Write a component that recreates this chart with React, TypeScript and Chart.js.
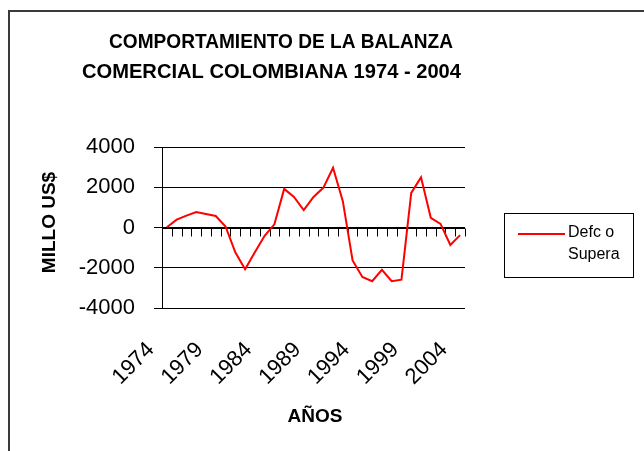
import { useEffect, useRef } from 'react';
import { Chart, registerables } from 'chart.js';

Chart.register(...registerables);

const years: string[] = [
  '1974', '1975', '1976', '1977', '1978', '1979', '1980', '1981', '1982', '1983',
  '1984', '1985', '1986', '1987', '1988', '1989', '1990', '1991', '1992', '1993',
  '1994', '1995', '1996', '1997', '1998', '1999', '2000', '2001', '2002', '2003', '2004',
];
const balance: number[] = [
  10, 390, 590, 770, 670, 570, 50, -1230, -2070, -1230,
  -410, 160, 1920, 1520, 870, 1520, 1970, 2970, 1310, -1640,
  -2460, -2670, -2100, -2670, -2590, 1720, 2490, 480, 180, -870, -380,
];
const seriesName = 'Defc o Supera';
const legendLines: string[] = ['Defc o', 'Supera'];
const titleLines: string[] = ['COMPORTAMIENTO DE LA BALANZA', 'COMERCIAL COLOMBIANA 1974 - 2004'];
const yTitle = 'MILLO US$';
const xTitle = 'AÑOS';
const yMin = -4000;
const yMax = 4000;
const yStep = 2000;

const FONT = '"Liberation Sans", Arial, sans-serif';

function drawFitted(ctx: any, text: string, cx: number, baseline: number, left: number, right: number) {
  const w = ctx.measureText(text).width;
  const sx = (right - left) / w;
  ctx.save();
  ctx.translate(cx, baseline);
  ctx.scale(sx, 1);
  ctx.textAlign = 'center';
  ctx.fillText(text, 0, 0);
  ctx.restore();
}

const decorPlugin = {
  id: 'decor',
  beforeDatasetsDraw(chart: any) {
    const ctx = chart.ctx;
    const x = chart.scales.x;
    const y = chart.scales.y;
    const area = chart.chartArea;
    const y0 = Math.round(y.getPixelForValue(0)) + 0.5;
    ctx.save();
    ctx.strokeStyle = '#000';
    ctx.lineWidth = 1;
    ctx.beginPath();
    ctx.moveTo(area.left, y0);
    ctx.lineTo(area.right, y0);
    const n = years.length;
    for (let k = 0; k <= n; k++) {
      const px = Math.round(x.getPixelForValue(k - 0.5)) + 0.5;
      ctx.moveTo(px, y0);
      ctx.lineTo(px, y0 + 8);
    }
    ctx.stroke();
    ctx.restore();
  },
  afterDraw(chart: any) {
    const ctx = chart.ctx;
    ctx.save();
    // frame
    ctx.strokeStyle = '#3a3a3a';
    ctx.lineWidth = 2;
    ctx.strokeRect(9, 11, 800, 600);
    // title
    ctx.fillStyle = '#000';
    ctx.font = `bold 21px ${FONT}`;
    ctx.textBaseline = 'alphabetic';
    drawFitted(ctx, titleLines[0], 281, 48, 109, 453);
    drawFitted(ctx, titleLines[1], 271.5, 78, 82, 461);
    // x title
    ctx.font = `bold 19px ${FONT}`;
    ctx.textAlign = 'center';
    ctx.fillText(xTitle, 315, 422);
    // y title
    ctx.save();
    ctx.translate(55, 222.5);
    ctx.rotate(-Math.PI / 2);
    ctx.fillText(yTitle, 0, 0);
    ctx.restore();
    // legend
    ctx.strokeStyle = '#000';
    ctx.lineWidth = 1;
    ctx.strokeRect(504.5, 213.5, 129, 64);
    ctx.strokeStyle = '#ff0000';
    ctx.lineWidth = 2;
    ctx.beginPath();
    ctx.moveTo(518, 234);
    ctx.lineTo(565, 234);
    ctx.stroke();
    ctx.fillStyle = '#000';
    ctx.font = `16px ${FONT}`;
    ctx.textAlign = 'left';
    ctx.fillText(legendLines[0], 568, 237);
    ctx.fillText(legendLines[1], 568, 259);
    ctx.restore();
  },
};

export default function App() {
  const ref = useRef<HTMLCanvasElement | null>(null);
  useEffect(() => {
    if (!ref.current) return;
    const chart = new Chart(ref.current, {
      type: 'line',
      data: {
        labels: years,
        datasets: [
          {
            label: seriesName,
            data: balance,
            borderColor: '#ff0000',
            backgroundColor: '#ff0000',
            borderWidth: 2,
            pointRadius: 0,
            tension: 0,
          },
        ],
      },
      options: {
        animation: false,
        responsive: false,
        devicePixelRatio: 1,
        layout: { padding: { left: 60, right: 179, top: 147, bottom: 33 } },
        plugins: {
          legend: { display: false },
          title: { display: false },
          tooltip: { enabled: false },
        },
        scales: {
          x: {
            type: 'category',
            offset: true,
            clip: false,
            grid: { display: false, drawTicks: false },
            border: { display: false },
            ticks: {
              autoSkip: false,
              maxRotation: 45,
              minRotation: 45,
              padding: 29,
              labelOffset: -16,
              color: '#000',
              font: { family: FONT, size: 22 },
              callback: (_v: any, i: number) => (i % 5 === 0 ? years[i] : ''),
            },
            afterFit: (s: any) => {
              s.height = 110;
            },
          },
          y: {
            min: yMin,
            max: yMax,
            ticks: {
              stepSize: yStep,
              padding: 19,
              color: '#000',
              font: { family: FONT, size: 22 },
              callback: (v: any) => String(v),
            },
            grid: { color: '#000', lineWidth: 1, tickLength: 8, drawTicks: true },
            border: { display: true, color: '#000', width: 1 },
            afterFit: (s: any) => {
              s.width = 102;
            },
          },
        },
      },
      plugins: [decorPlugin],
    });
    return () => chart.destroy();
  }, []);
  return (
    <div style={{ position: 'fixed', left: 0, top: 0, width: 644, height: 451, background: '#fff' }}>
      <canvas ref={ref} width={644} height={451} style={{ display: 'block', width: 644, height: 451 }} />
    </div>
  );
}
